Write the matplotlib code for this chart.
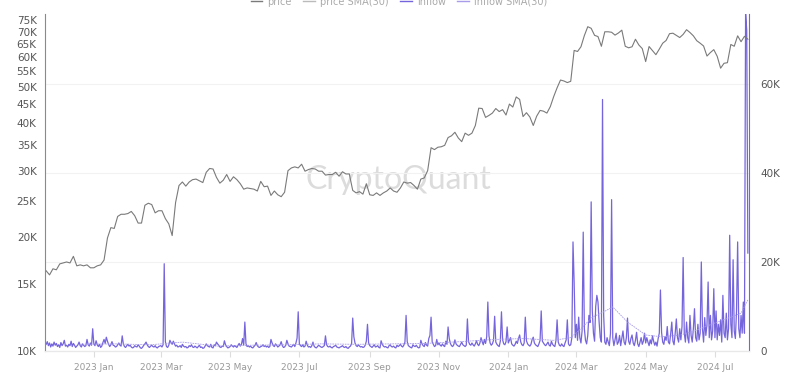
"""Exchange inflow vs. BTC price, CryptoQuant style dual-axis chart."""

import matplotlib
matplotlib.use("Agg")
import matplotlib.pyplot as plt
import matplotlib.dates as mdates
from matplotlib.ticker import FixedLocator, NullLocator
import pandas as pd

# BTC price (K USD), every 3 days from 2022-11-20
price_start = "2022-11-20"
price_k = [
    16.3, 15.9, 16.5, 16.4, 17.0, 17.1, 17.2, 17.1, 17.8, 16.8, 16.9, 16.8, 16.9, 16.6,
    16.6, 16.8, 16.9, 17.4, 19.9, 21.2, 21.1, 22.7, 23.0, 23.0, 23.1, 23.4, 22.8, 21.8,
    21.8, 24.3, 24.6, 24.4, 23.2, 23.5, 23.5, 22.4, 21.7, 20.2, 24.7, 27.4, 28.0, 27.3,
    28.0, 28.4, 28.5, 28.2, 27.9, 29.7, 30.4, 30.3, 28.8, 27.8, 28.3, 29.3, 28.1, 28.9,
    28.4, 27.7, 26.8, 27.0, 26.9, 26.8, 26.5, 28.1, 27.2, 27.3, 25.8, 26.5, 25.9, 25.6,
    26.3, 30.0, 30.5, 30.7, 30.5, 31.2, 29.9, 30.2, 30.4, 30.3, 29.9, 29.9, 29.2, 29.3,
    29.3, 29.7, 29.0, 29.8, 29.4, 29.4, 26.6, 26.2, 26.4, 26.0, 27.7, 25.9, 25.8, 26.2,
    25.8, 26.2, 26.5, 27.0, 26.5, 26.3, 27.0, 28.0, 27.8, 27.9, 27.4, 26.8, 28.5, 28.7,
    30.0, 34.5, 34.1, 34.6, 34.7, 35.0, 36.7, 37.1, 37.9, 36.6, 35.8, 37.7, 37.2, 37.7,
    39.5, 43.9, 43.8, 41.5, 42.0, 42.6, 43.8, 43.0, 43.5, 42.1, 45.0, 44.2, 47.0, 46.3,
    41.7, 42.7, 41.6, 39.5, 41.8, 43.3, 43.1, 42.6, 44.3, 47.1, 49.7, 52.1, 51.8, 51.3,
    51.7, 62.4, 62.0, 63.8, 68.3, 72.1, 71.4, 68.4, 67.9, 64.0, 69.9, 69.9, 69.7, 68.5,
    69.4, 70.6, 64.0, 63.4, 63.8, 66.8, 64.5, 63.1, 58.3, 63.9, 62.3, 60.8, 62.9, 65.2,
    66.3, 69.1, 69.3, 68.4, 67.5, 68.8, 70.8, 69.6, 68.2, 66.2, 65.2, 64.1, 60.3, 61.6,
    62.7, 60.2, 56.0, 57.7, 57.9, 64.7, 64.0, 68.2, 65.8, 68.0, 66.8,
]

# daily exchange inflow (K BTC) from 2022-11-20
inflow_start = "2022-11-20"
inflow_k = [
    # 2022 Nov
    1.5, 2.1, 1.2, 1.8, 0.9, 1.6, 1.1, 2.0, 1.3, 1.7, 1.0,
    # Dec
    1.4, 0.8, 1.9, 1.2, 1.6, 2.4, 1.1, 1.3, 0.9, 1.5, 1.2, 2.2, 1.0, 1.7, 1.3, 0.8,
    1.1, 1.4, 2.0, 1.2, 0.9, 1.6, 1.3, 1.0, 1.2, 2.6, 1.4, 1.1, 1.8, 1.3, 5.0,
    # 2023 Jan
    1.6, 1.2, 2.3, 1.4, 1.0, 1.5, 0.8, 1.1, 1.9, 2.6, 1.7, 3.1, 2.2, 1.5, 1.0, 1.4,
    2.1, 1.3, 1.2, 0.9, 1.0, 1.4, 1.8, 1.3, 1.1, 3.4, 1.6, 1.0, 0.8, 1.2, 1.5,
    # Feb
    1.1, 1.3, 0.9, 0.7, 0.8, 1.2, 1.0, 0.9, 1.4, 1.1, 0.7, 0.6, 0.9, 1.3, 1.6, 2.0,
    1.4, 1.0, 0.8, 1.1, 1.3, 1.0, 0.9, 1.2, 0.8, 0.7, 1.0, 1.1,
    # Mar
    1.2, 0.9, 1.4, 19.6, 2.1, 1.0, 0.8, 1.3, 2.4, 1.9, 1.5, 2.2, 1.6, 1.1, 1.3, 0.9,
    1.0, 1.2, 0.8, 1.5, 1.1, 0.9, 1.0, 0.7, 0.8, 1.2, 1.0, 1.4, 0.9, 0.8, 1.1,
    # Apr
    0.9, 0.7, 1.0, 1.3, 0.8, 0.9, 0.6, 0.7, 1.1, 1.6, 1.2, 1.0, 0.9, 1.5, 0.8, 0.7,
    1.4, 1.2, 2.0, 1.6, 1.3, 0.9, 0.8, 1.1, 1.0, 2.3, 1.4, 1.0, 0.7, 0.8,
    # May
    1.0, 1.4, 1.1, 0.9, 1.2, 1.0, 0.8, 1.3, 1.7, 1.1, 1.5, 2.8, 1.3, 6.5, 1.6, 1.0,
    1.2, 0.9, 1.1, 0.8, 0.7, 1.0, 1.3, 1.9, 1.2, 0.9, 0.8, 1.0, 1.1, 1.4, 1.0,
    # Jun
    1.2, 0.9, 1.1, 0.8, 1.0, 2.6, 1.8, 1.2, 1.0, 1.6, 1.3, 0.9, 1.1, 1.4, 2.1, 1.2,
    0.8, 0.9, 1.3, 2.4, 1.6, 1.1, 1.0, 0.9, 1.2, 1.5, 1.0, 1.8, 2.9, 8.8,
    # Jul
    1.6, 1.2, 1.0, 1.4, 0.9, 1.1, 2.2, 1.3, 0.9, 1.0, 0.8, 1.2, 2.0, 1.1, 0.8, 0.7,
    1.0, 1.3, 1.1, 0.9, 0.8, 1.0, 1.2, 3.4, 1.4, 1.0, 0.9, 1.1, 0.8, 0.7, 1.0,
    # Aug
    1.1, 1.3, 0.9, 0.8, 0.7, 0.9, 1.0, 1.2, 0.9, 0.8, 1.0, 0.7, 0.6, 0.9, 1.1, 1.6,
    7.4, 3.2, 1.8, 1.2, 1.0, 1.4, 1.1, 0.9, 1.0, 0.8, 0.9, 1.3, 2.2, 6.0, 1.8,
    # Sep
    1.2, 1.0, 0.8, 1.1, 1.4, 0.9, 1.0, 1.2, 0.8, 0.7, 2.3, 1.5, 1.1, 0.9, 1.0, 0.8,
    0.7, 1.2, 1.4, 1.0, 0.9, 1.1, 0.8, 0.7, 1.3, 1.0, 1.2, 1.5, 1.1, 0.9,
    # Oct
    1.3, 2.0, 8.0, 2.1, 1.2, 1.0, 0.8, 0.7, 1.4, 1.1, 1.0, 1.3, 0.9, 0.7, 0.8, 2.4,
    1.6, 1.2, 1.0, 1.9, 1.3, 1.1, 2.8, 3.5, 7.6, 2.0, 1.5, 1.0, 1.2, 2.6, 1.4,
    # Nov
    1.8, 1.3, 1.1, 1.6, 1.2, 1.0, 2.2, 1.5, 5.4, 2.8, 1.7, 1.2, 1.0, 1.4, 2.5, 1.6,
    1.3, 1.1, 1.0, 1.5, 2.0, 1.4, 1.2, 1.0, 1.3, 7.2, 2.1, 1.5, 1.3, 1.8,
    # Dec
    1.4, 1.1, 1.6, 2.3, 1.5, 1.2, 1.8, 3.0, 2.1, 1.4, 2.6, 1.7, 3.2, 11.0, 3.4, 1.8,
    1.3, 1.6, 2.4, 7.8, 2.0, 1.5, 1.2, 1.0, 2.2, 8.8, 2.5, 1.6, 1.4, 2.1, 5.4,
    # 2024 Jan
    1.8, 2.4, 3.0, 1.6, 1.3, 1.1, 1.5, 2.2, 1.7, 2.8, 3.6, 2.0, 1.4, 1.2, 1.8, 7.6,
    2.3, 1.6, 1.3, 1.1, 1.5, 2.6, 3.1, 1.8, 1.4, 1.2, 1.0, 1.6, 2.4, 9.0, 2.2,
    # Feb
    1.8, 1.4, 1.2, 1.6, 2.0, 1.3, 1.1, 2.2, 1.5, 1.2, 1.0, 2.4, 7.0, 2.0, 1.3, 1.1,
    1.6, 1.2, 1.0, 1.8, 2.5, 7.0, 1.6, 1.2, 1.4, 3.0, 24.5, 15.5, 3.0,
    # Mar
    6.0, 2.4, 7.6, 3.0, 1.8, 4.5, 26.7, 5.0, 2.4, 1.6, 3.5, 8.0, 6.4, 33.5, 9.0, 4.0,
    2.2, 10.0, 12.5, 11.0, 6.5, 3.0, 2.0, 56.5, 8.0, 2.0, 1.5, 3.0, 2.0, 1.2, 4.0,
    # Apr
    34.0, 3.0, 1.2, 2.5, 4.0, 1.5, 2.0, 3.5, 1.2, 2.8, 4.5, 2.0, 1.4, 3.0, 7.4, 2.2,
    1.5, 2.8, 3.6, 1.8, 1.2, 2.4, 4.2, 1.6, 1.0, 2.0, 3.0, 1.5, 2.2, 4.0,
    # May
    1.8, 3.0, 2.0, 1.2, 2.5, 1.6, 3.4, 2.2, 1.3, 2.0, 1.1, 2.8, 4.0, 13.7, 4.2, 2.0,
    1.5, 3.2, 2.4, 5.5, 2.0, 1.6, 3.8, 6.5, 2.2, 1.4, 4.0, 7.2, 3.0, 2.0, 5.0,
    # Jun
    2.5, 5.5, 21.0, 4.0, 2.0, 6.5, 3.0, 1.8, 8.0, 3.5, 2.0, 5.0, 9.5, 3.0, 2.2, 6.0,
    2.5, 4.0, 20.0, 5.0, 2.0, 7.5, 3.5, 6.0, 15.5, 3.0, 8.0, 2.5, 4.5, 14.0,
    # Jul
    3.0, 9.0, 2.5, 6.0, 3.5, 7.0, 2.0, 12.5, 4.0, 3.0, 8.5, 2.5, 5.0, 26.0, 6.0, 3.0,
    20.5, 4.5, 2.8, 9.0, 24.5, 5.0, 3.0, 8.0, 4.0, 11.0, 4.0, 76.0, 72.0, 22.0,
]

# inflow SMA(30) (K BTC)
sma_dates = [
    "2022-12-20", "2023-01-20", "2023-02-20", "2023-03-20", "2023-04-20", "2023-05-20",
    "2023-06-20", "2023-07-20", "2023-08-20", "2023-09-20", "2023-10-20", "2023-11-20",
    "2023-12-20", "2024-01-15", "2024-02-10", "2024-02-25", "2024-03-05", "2024-03-15",
    "2024-03-25", "2024-04-02", "2024-04-15", "2024-05-01", "2024-05-15", "2024-06-01",
    "2024-06-15", "2024-07-01", "2024-07-15", "2024-07-24", "2024-07-30",
]
sma_k = [
    1.5, 1.6, 1.4, 2.0, 1.1, 1.3, 1.4, 1.6, 1.5, 1.6, 1.7, 2.1,
    2.6, 2.8, 2.4, 3.0, 5.0, 7.6, 8.8, 9.9, 6.5, 3.6, 3.2, 3.6,
    4.7, 6.3, 7.6, 8.5, 11.5,
]

left_ticks = [10, 15, 20, 25, 30, 35, 40, 45, 50, 55, 60, 65, 70, 75]
right_ticks = [0, 20, 40, 60]
month_ticks = ["2023-01-01", "2023-03-01", "2023-05-01", "2023-07-01", "2023-09-01",
               "2023-11-01", "2024-01-01", "2024-03-01", "2024-05-01", "2024-07-01"]

price_dates = pd.date_range(price_start, periods=len(price_k), freq="3D")
inflow_dates = pd.date_range(inflow_start, periods=len(inflow_k), freq="D")

GRAY = "#7a7a7a"
PURPLE = "#7565dc"
LABEL = "#555555"

fig = plt.figure(figsize=(7.9, 3.72), dpi=100)
ax = fig.add_axes([45 / 790, 21 / 372, 704 / 790, 337 / 372])
ax2 = ax.twinx()

# right axis (inflow) drawn behind the price line
ax2.set_zorder(1)
ax.set_zorder(2)
ax.patch.set_visible(False)

ax2.plot(inflow_dates, [v * 1000 for v in inflow_k], color=PURPLE, lw=0.9)
ax2.plot(pd.to_datetime(sma_dates), [v * 1000 for v in sma_k], color="#a79de8",
         lw=0.6, ls=(0, (2, 1)))
ax2.set_ylim(0, 75700)
ax2.yaxis.set_major_locator(FixedLocator([t * 1000 for t in right_ticks]))
ax2.set_yticklabels(["0" if t == 0 else f"{t}K" for t in right_ticks])
ax2.grid(axis="y", color="#f2f2f2", lw=0.8)
ax2.tick_params(axis="y", length=0, pad=8, labelsize=7.5, labelcolor=LABEL)

ax.plot(price_dates, [v * 1000 for v in price_k], color=GRAY, lw=0.8)
ax.set_yscale("log")
ax.set_ylim(10000, 77900)
ax.yaxis.set_major_locator(FixedLocator([t * 1000 for t in left_ticks]))
ax.yaxis.set_minor_locator(NullLocator())
ax.set_yticklabels([f"{t}K" for t in left_ticks])
ax.tick_params(axis="y", length=0, pad=6, labelsize=7.5, labelcolor=LABEL)

ax.set_xlim(pd.Timestamp("2022-11-19"), pd.Timestamp("2024-07-31"))
ax.xaxis.set_major_locator(FixedLocator(mdates.date2num(pd.to_datetime(month_ticks))))
ax.xaxis.set_major_formatter(mdates.DateFormatter("%Y %b"))
ax.tick_params(axis="x", length=4, color="#dddddd", labelsize=6.5,
               labelcolor="#999999", pad=5)

for a in (ax, ax2):
    a.spines["top"].set_visible(False)
    a.spines["bottom"].set_color("#e8e8e8")
ax.spines["left"].set_color("#8a8a8a")
ax.spines["right"].set_visible(False)
ax2.spines["left"].set_visible(False)
ax2.spines["right"].set_color(PURPLE)

# watermark
fig.text(0.504, 0.515, "CryptoQuant", fontsize=23, color="#dcdcdc",
         ha="center", va="center", family="Lato", zorder=0)

# legend along the very top edge, as in the source
handles = [
    plt.Line2D([], [], color=GRAY, lw=1),
    plt.Line2D([], [], color="#bbbbbb", lw=1),
    plt.Line2D([], [], color=PURPLE, lw=1),
    plt.Line2D([], [], color="#a79de8", lw=1),
]
fig.legend(handles, ["price", "price SMA(30)", "inflow", "inflow SMA(30)"],
           loc="center", bbox_to_anchor=(0.505, 0.995), ncol=4, frameon=False,
           fontsize=7, labelcolor="#aaaaaa", handlelength=1.2, handletextpad=0.5,
           columnspacing=1.2, borderpad=0)

fig.savefig("out.png", dpi=100)
